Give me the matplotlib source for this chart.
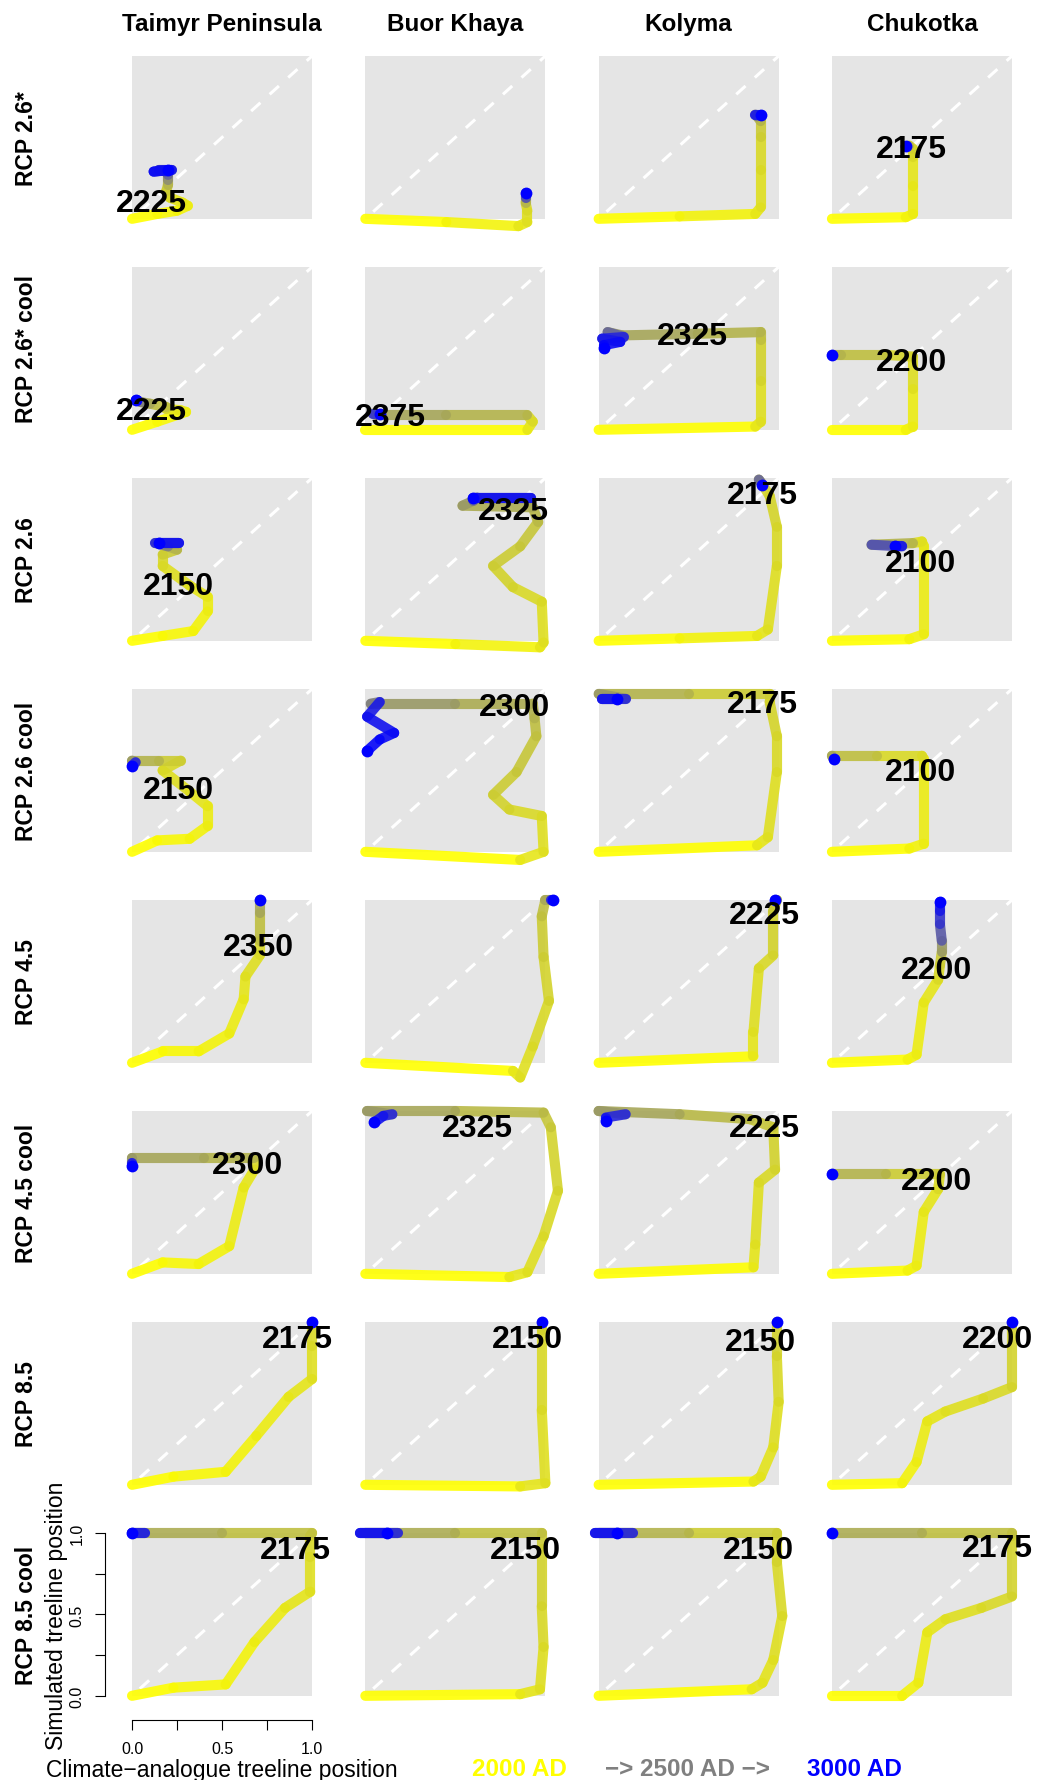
import numpy as np
import matplotlib
matplotlib.use('Agg')
import matplotlib.pyplot as plt
from matplotlib.collections import LineCollection
from matplotlib.colors import LinearSegmentedColormap
from matplotlib.patches import Rectangle

plt.rcParams['font.family'] = ['Liberation Sans', 'DejaVu Sans']
plt.rcParams['lines.scale_dashes'] = False

regions = ['Taimyr Peninsula', 'Buor Khaya', 'Kolyma', 'Chukotka']
scenarios = ['RCP 2.6*', 'RCP 2.6* cool', 'RCP 2.6', 'RCP 2.6 cool',
             'RCP 4.5', 'RCP 4.5 cool', 'RCP 8.5', 'RCP 8.5 cool']

# trajectories: (year, climate-analogue position, simulated position)
tp_26s = [(2000, 0, 0), (2025, 0.14, 0.03), (2050, 0.25, 0.05), (2075, 0.31, 0.08),
          (2100, 0.28, 0.10), (2150, 0.21, 0.13), (2200, 0.19, 0.17), (2300, 0.20, 0.21),
          (2450, 0.20, 0.24), (2600, 0.20, 0.27), (2750, 0.19, 0.29), (2850, 0.15, 0.30),
          (2900, 0.22, 0.30), (2950, 0.12, 0.29), (3000, 0.20, 0.30)]
bk_26s = [(2000, 0, 0), (2050, 0.45, -0.02), (2100, 0.85, -0.045), (2125, 0.90, -0.02),
          (2150, 0.90, 0.05), (2300, 0.89, 0.10), (2700, 0.89, 0.13), (3000, 0.89, 0.16)]
ko_26s = [(2000, 0, 0), (2050, 0.45, 0.015), (2100, 0.87, 0.03), (2125, 0.90, 0.07),
          (2150, 0.90, 0.30), (2200, 0.90, 0.50), (2300, 0.90, 0.60), (2500, 0.88, 0.63),
          (2900, 0.87, 0.64), (3000, 0.90, 0.64)]
ch_26s = [(2000, 0, 0), (2050, 0.41, 0.01), (2075, 0.45, 0.03), (2100, 0.45, 0.20),
          (2150, 0.45, 0.38), (2175, 0.45, 0.43), (2300, 0.43, 0.45), (3000, 0.41, 0.45)]

tp_26sc = [(2000, 0, 0), (2025, 0.14, 0.05), (2075, 0.30, 0.11), (2100, 0.27, 0.12),
           (2175, 0.19, 0.13), (2250, 0.19, 0.14), (2350, 0.10, 0.16), (2500, 0.05, 0.17),
           (2900, 0.03, 0.18), (3000, 0.02, 0.18)]
bk_26sc = [(2000, 0, 0), (2100, 0.90, 0.0), (2150, 0.93, 0.05), (2300, 0.90, 0.09),
           (2350, 0.45, 0.09), (2400, 0.08, 0.09), (2800, 0.04, 0.10), (3000, 0.08, 0.10)]
ko_26sc = [(2000, 0, 0), (2100, 0.87, 0.02), (2125, 0.90, 0.05), (2175, 0.90, 0.30),
           (2250, 0.90, 0.55), (2300, 0.90, 0.60), (2350, 0.55, 0.59), (2400, 0.13, 0.58),
           (2600, 0.05, 0.60), (2850, 0.14, 0.57), (2900, 0.02, 0.56), (2950, 0.12, 0.54),
           (2975, 0.03, 0.52), (3000, 0.03, 0.50)]
ch_26sc = [(2000, 0, 0), (2050, 0.41, 0.0), (2075, 0.45, 0.02), (2125, 0.45, 0.25),
           (2175, 0.45, 0.45), (2250, 0.30, 0.46), (2300, 0.05, 0.46), (3000, 0.0, 0.46)]

tp_26 = [(2000, 0, 0), (2025, 0.17, 0.03), (2050, 0.34, 0.06), (2075, 0.42, 0.18),
         (2100, 0.42, 0.27), (2125, 0.32, 0.34), (2150, 0.17, 0.46), (2200, 0.17, 0.53),
         (2300, 0.25, 0.56), (2500, 0.20, 0.58), (2850, 0.13, 0.60), (2925, 0.26, 0.60),
         (3000, 0.15, 0.60)]
bk_26 = [(2000, 0, 0), (2050, 0.50, -0.02), (2100, 0.97, -0.04), (2125, 0.99, -0.01),
         (2150, 0.98, 0.24), (2175, 0.82, 0.33), (2200, 0.71, 0.46), (2225, 0.86, 0.58),
         (2275, 0.96, 0.73), (2325, 0.93, 0.82), (2400, 0.54, 0.83), (2600, 0.60, 0.86),
         (2850, 0.62, 0.88), (2925, 0.92, 0.88), (3000, 0.60, 0.88)]
ko_26 = [(2000, 0, 0), (2050, 0.45, 0.015), (2100, 0.88, 0.03), (2125, 0.94, 0.07),
         (2150, 0.99, 0.46), (2165, 0.99, 0.70), (2175, 0.95, 0.89), (2250, 0.91, 0.96),
         (2600, 0.89, 0.99), (3000, 0.91, 0.96)]
ch_26 = [(2000, 0, 0), (2050, 0.43, 0.01), (2075, 0.51, 0.04), (2100, 0.51, 0.58),
         (2125, 0.50, 0.61), (2300, 0.45, 0.60), (2700, 0.22, 0.59), (2900, 0.39, 0.58),
         (3000, 0.35, 0.58)]

tp_26c = [(2000, 0, 0), (2025, 0.14, 0.07), (2050, 0.32, 0.08), (2075, 0.42, 0.16),
          (2100, 0.42, 0.28), (2125, 0.32, 0.37), (2150, 0.17, 0.50), (2200, 0.27, 0.56),
          (2300, 0.15, 0.56), (2400, 0.0, 0.56), (2850, 0.02, 0.55), (3000, 0.0, 0.53)]
bk_26c = [(2000, 0, 0), (2100, 0.86, -0.05), (2125, 0.99, 0.0), (2150, 0.98, 0.22),
          (2175, 0.80, 0.26), (2200, 0.71, 0.35), (2225, 0.84, 0.49), (2250, 0.95, 0.71),
          (2300, 0.94, 0.82), (2325, 0.93, 0.91), (2400, 0.50, 0.91), (2500, 0.03, 0.91),
          (2900, 0.08, 0.92), (2930, 0.01, 0.83), (2960, 0.16, 0.73), (2980, 0.08, 0.69),
          (3000, 0.01, 0.62)]
ko_26c = [(2000, 0, 0), (2100, 0.88, 0.04), (2125, 0.94, 0.09), (2150, 0.99, 0.49),
          (2165, 0.99, 0.71), (2175, 0.95, 0.92), (2200, 0.95, 0.97), (2300, 0.50, 0.97),
          (2400, 0.0, 0.97), (2850, 0.15, 0.94), (2925, 0.02, 0.94), (3000, 0.10, 0.94)]
ch_26c = [(2000, 0, 0), (2050, 0.43, 0.02), (2075, 0.51, 0.05), (2100, 0.51, 0.57),
          (2150, 0.50, 0.59), (2250, 0.25, 0.59), (2350, 0.0, 0.59), (3000, 0.01, 0.57)]

tp_45 = [(2000, 0, 0), (2025, 0.17, 0.07), (2050, 0.37, 0.07), (2075, 0.54, 0.18),
         (2100, 0.62, 0.39), (2125, 0.63, 0.53), (2150, 0.71, 0.66), (2250, 0.71, 0.75),
         (2350, 0.71, 0.92), (2450, 0.71, 1.0), (3000, 0.71, 1.0)]
bk_45 = [(2000, 0, 0), (2100, 0.82, -0.05), (2125, 0.86, -0.09), (2150, 0.93, 0.10),
         (2175, 1.02, 0.38), (2200, 0.99, 0.65), (2250, 0.98, 0.90), (2350, 1.0, 1.0),
         (2850, 1.03, 1.0), (3000, 1.04, 1.0)]
ko_45 = [(2000, 0, 0), (2100, 0.86, 0.04), (2125, 0.86, 0.19), (2150, 0.89, 0.58),
         (2175, 0.97, 0.66), (2225, 0.97, 0.93), (2400, 0.99, 1.0), (3000, 0.98, 1.0)]
ch_45 = [(2000, 0, 0), (2050, 0.42, 0.02), (2075, 0.47, 0.05), (2100, 0.51, 0.37),
         (2150, 0.59, 0.51), (2200, 0.60, 0.60), (2400, 0.61, 0.68), (2650, 0.61, 0.75),
         (2800, 0.60, 0.85), (2900, 0.60, 0.93), (3000, 0.60, 0.99)]

tp_45c = [(2000, 0, 0), (2025, 0.17, 0.07), (2050, 0.37, 0.06), (2075, 0.54, 0.17),
          (2100, 0.62, 0.53), (2150, 0.68, 0.64), (2300, 0.68, 0.71), (2350, 0.40, 0.71),
          (2400, 0.0, 0.71), (2900, 0.0, 0.68), (3000, 0.0, 0.66)]
bk_45c = [(2000, 0, 0), (2100, 0.80, -0.02), (2125, 0.90, 0.01), (2150, 0.99, 0.23),
          (2175, 1.07, 0.51), (2225, 1.03, 0.90), (2275, 0.99, 0.99), (2350, 0.50, 1.0),
          (2400, 0.01, 1.0), (2850, 0.15, 0.98), (2925, 0.10, 0.97), (3000, 0.05, 0.93)]
ko_45c = [(2000, 0, 0), (2100, 0.86, 0.04), (2125, 0.87, 0.18), (2150, 0.89, 0.56),
          (2175, 0.98, 0.64), (2225, 0.97, 0.90), (2275, 0.84, 0.95), (2350, 0.45, 0.98),
          (2400, 0.0, 1.0), (2850, 0.15, 0.98), (2925, 0.04, 0.96), (3000, 0.04, 0.94)]
ch_45c = [(2000, 0, 0), (2050, 0.42, 0.02), (2075, 0.47, 0.05), (2100, 0.51, 0.38),
          (2150, 0.59, 0.52), (2200, 0.60, 0.61), (2300, 0.30, 0.61), (2400, 0.0, 0.61),
          (3000, 0.0, 0.61)]

tp_85 = [(2000, 0, 0), (2025, 0.23, 0.05), (2050, 0.52, 0.08), (2075, 0.69, 0.30),
         (2100, 0.87, 0.54), (2125, 1.0, 0.65), (2150, 1.0, 0.85), (2175, 1.0, 0.99),
         (3000, 1.0, 1.0)]
bk_85 = [(2000, 0, 0), (2100, 0.86, -0.01), (2125, 1.0, 0.01), (2150, 0.98, 0.46),
         (2175, 0.98, 0.95), (3000, 0.98, 1.0)]
ko_85 = [(2000, 0, 0), (2100, 0.86, 0.02), (2110, 0.90, 0.05), (2125, 0.97, 0.23),
         (2150, 1.0, 0.51), (2175, 0.99, 0.79), (2200, 0.99, 1.0), (3000, 0.99, 1.0)]
ch_85 = [(2000, 0, 0), (2050, 0.39, 0.01), (2075, 0.47, 0.14), (2100, 0.53, 0.39),
         (2125, 0.63, 0.45), (2150, 0.84, 0.53), (2175, 1.0, 0.60), (2200, 1.0, 0.98),
         (3000, 1.0, 1.0)]

tp_85c = [(2000, 0, 0), (2025, 0.23, 0.05), (2050, 0.52, 0.07), (2075, 0.68, 0.33),
          (2100, 0.85, 0.54), (2125, 0.99, 0.64), (2150, 0.99, 0.85), (2175, 0.99, 0.98),
          (2250, 1.0, 1.0), (2325, 0.50, 1.0), (2400, 0.0, 1.0), (2900, 0.07, 1.0),
          (3000, 0.0, 1.0)]
bk_85c = [(2000, 0, 0), (2100, 0.86, 0.01), (2125, 0.97, 0.04), (2150, 0.99, 0.30),
          (2175, 0.98, 0.55), (2200, 0.98, 0.90), (2250, 0.98, 1.0), (2325, 0.50, 1.0),
          (2400, 0.0, 1.0), (2850, 0.18, 1.0), (2925, -0.03, 1.0), (3000, 0.12, 1.0)]
ko_85c = [(2000, 0, 0), (2100, 0.85, 0.04), (2110, 0.91, 0.08), (2125, 0.97, 0.22),
          (2150, 1.02, 0.49), (2175, 0.99, 0.82), (2200, 0.99, 1.0), (2300, 0.50, 1.0),
          (2400, 0.0, 1.0), (2850, 0.19, 1.0), (2925, -0.02, 1.0), (3000, 0.10, 1.0)]
ch_85c = [(2000, 0, 0), (2050, 0.39, 0.0), (2075, 0.48, 0.08), (2100, 0.53, 0.39),
          (2125, 0.63, 0.47), (2150, 0.83, 0.54), (2175, 1.0, 0.61), (2200, 1.0, 0.98),
          (2250, 1.0, 1.0), (2325, 0.50, 1.0), (2400, 0.0, 1.0), (3000, 0.0, 1.0)]

tracks = [
    [tp_26s, bk_26s, ko_26s, ch_26s],
    [tp_26sc, bk_26sc, ko_26sc, ch_26sc],
    [tp_26, bk_26, ko_26, ch_26],
    [tp_26c, bk_26c, ko_26c, ch_26c],
    [tp_45, bk_45, ko_45, ch_45],
    [tp_45c, bk_45c, ko_45c, ch_45c],
    [tp_85, bk_85, ko_85, ch_85],
    [tp_85c, bk_85c, ko_85c, ch_85c],
]

label_years = [
    [2225, None, None, 2175],
    [2225, 2375, 2325, 2200],
    [2150, 2325, 2175, 2100],
    [2150, 2300, 2175, 2100],
    [2350, None, 2225, 2200],
    [2300, 2325, 2225, 2200],
    [2175, 2150, 2150, 2200],
    [2175, 2150, 2150, 2175],
]
# where the year labels sit (data coords)
label_pos = [
    [(0.11, 0.12), None, None, (0.44, 0.45)],
    [(0.11, 0.14), (0.14, 0.10), (0.52, 0.60), (0.44, 0.44)],
    [(0.26, 0.36), (0.82, 0.82), (0.91, 0.92), (0.49, 0.50)],
    [(0.26, 0.40), (0.83, 0.91), (0.91, 0.93), (0.49, 0.51)],
    [(0.70, 0.73), None, (0.92, 0.93), (0.58, 0.59)],
    [(0.64, 0.69), (0.62, 0.92), (0.92, 0.92), (0.58, 0.59)],
    [(0.92, 0.92), (0.90, 0.92), (0.90, 0.90), (0.92, 0.92)],
    [(0.91, 0.92), (0.89, 0.92), (0.89, 0.92), (0.92, 0.93)],
]

W, H = 1050, 1781
cmap = LinearSegmentedColormap.from_list('years', ['#FFFF00', '#808080', '#0000FF'])

fig = plt.figure(figsize=(W / 100, H / 100), dpi=100)

# panel grid in pixels
x0, y0, cw, rh = 105.4, 32.9, 233.3, 211.0
lo, hi = -0.148, 1.148


def fx(px):
    return px / W


def fy(py):
    return 1 - py / H


def draw_track(ax, track):
    yr = np.array([p[0] for p in track], dtype=float)
    x = np.array([p[1] for p in track], dtype=float)
    y = np.array([p[2] for p in track], dtype=float)
    pts = np.column_stack([x, y])
    segs = np.stack([pts[:-1], pts[1:]], axis=1)
    cols = cmap((yr[:-1] - 2000) / 1000.0)
    cols[:, 3] = 0.9
    lc = LineCollection(segs, colors=cols, linewidths=7.3, capstyle='round', zorder=3)
    ax.add_collection(lc)
    ax.plot(x[-1], y[-1], 'o', ms=8.5, color='#0000FF', mec='none', zorder=4)


for r in range(8):
    for c in range(4):
        left = x0 + c * cw
        top = y0 + r * rh
        ax = fig.add_axes([fx(left), fy(top + rh), cw / W, rh / H])
        ax.set_xlim(lo, hi)
        ax.set_ylim(lo, hi)
        ax.patch.set_visible(False)
        ax.add_patch(Rectangle((0, 0), 1, 1, fc='#E5E5E5', ec='none', zorder=0))
        ax.plot([0, 1], [0, 1], color='white', lw=2.2, linestyle=(10.4, (9, 9)), zorder=1)
        draw_track(ax, tracks[r][c])
        if label_years[r][c] is not None:
            lx, ly = label_pos[r][c]
            ax.annotate(str(label_years[r][c]), xy=(lx, ly), xytext=(0, -8.3),
                        textcoords='offset points', ha='center', va='baseline',
                        fontsize=23, fontweight='bold', zorder=5, annotation_clip=False)
        if r == 7 and c == 0:
            for s in ['top', 'right']:
                ax.spines[s].set_visible(False)
            ax.spines['left'].set_bounds(0, 1)
            ax.spines['bottom'].set_bounds(0, 1)
            ax.spines['left'].set_linewidth(0.8)
            ax.spines['bottom'].set_linewidth(0.8)
            ticks = [0, 0.25, 0.5, 0.75, 1]
            ax.set_xticks(ticks)
            ax.set_xticklabels(['0.0', '', '0.5', '', '1.0'])
            ax.set_yticks(ticks)
            ax.set_yticklabels(['0.0', '', '0.5', '', '1.0'], rotation=90, va='center')
            ax.tick_params(length=7, width=0.8, labelsize=11.5, pad=8)
        else:
            ax.axis('off')

# column titles
for c, name in enumerate(regions):
    fig.text(fx(x0 + c * cw + cw / 2), fy(31), name, ha='center', va='baseline',
             fontsize=17.5, fontweight='bold')

# row titles
for r, name in enumerate(scenarios):
    fig.text(fx(26.5), fy(y0 + r * rh + rh / 2), name, rotation=90, ha='center',
             va='center', fontsize=16.5, fontweight='bold')

fig.text(fx(56), fy(y0 + 7 * rh + rh / 2), 'Simulated treeline position', rotation=90,
         ha='center', va='center', fontsize=16.5)
fig.text(fx(x0 + cw / 2), fy(1777), 'Climate\u2212analogue treeline position',
         ha='center', va='baseline', fontsize=16.5)

fig.text(fx(472), fy(1776), '2000 AD', color='#FFFF00', fontsize=17.5,
         fontweight='bold', ha='left', va='baseline')
fig.text(fx(605), fy(1776), '\u2212> 2500 AD \u2212>', color='#808080', fontsize=17.5,
         fontweight='bold', ha='left', va='baseline')
fig.text(fx(807), fy(1776), '3000 AD', color='#0000FF', fontsize=17.5,
         fontweight='bold', ha='left', va='baseline')

fig.savefig('out.png', dpi=100)
plt.close(fig)
